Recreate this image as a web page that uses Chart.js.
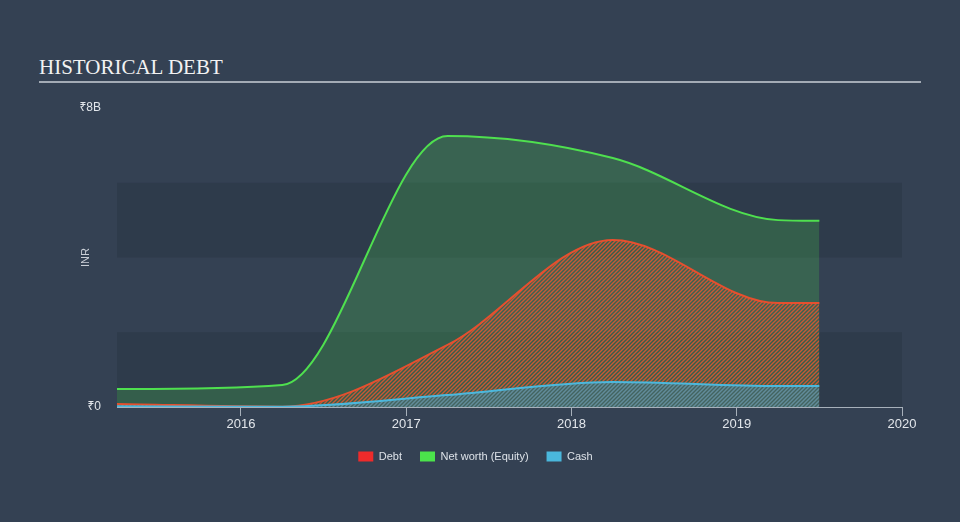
<!DOCTYPE html>
<html>
<head>
<meta charset="utf-8">
<script src="https://cdn.jsdelivr.net/npm/chart.js@4.4.0/dist/chart.umd.min.js"></script>
<style>
  html, body { margin: 0; padding: 0; background: #344153; }
  #wrap { position: relative; width: 960px; height: 522px; }
  #titulo {
    position: absolute; left: 39px; top: 55px;
    font-family: "Liberation Serif", "DejaVu Serif", serif;
    font-size: 21px; color: #f2f2f2;
  }
  #linha { position: absolute; left: 39px; top: 81px; width: 882px; height: 2px; background: #a3abb5; }
  canvas { position: absolute; left: 0; top: 0; }
</style>
</head>
<body>
<div id="wrap">
  <div id="titulo">HISTORICAL DEBT</div>
  <div id="linha"></div>
  <canvas id="grafico" width="960" height="522"></canvas>
</div>
<script>
// datas em anos fracionados (fim de março de cada ano + último trimestre)
const datas = [2015.25, 2016.25, 2017.25, 2018.25, 2019.25, 2019.5];
// valores em bilhões de rúpias
const divida = [0.08, 0.01, 1.66, 4.47, 2.78, 2.78];
const patrimonio = [0.48, 0.59, 7.25, 6.66, 5.0, 4.98];
const caixa = [0.02, 0.01, 0.32, 0.67, 0.56, 0.56];
const anosTicks = [2016, 2017, 2018, 2019, 2020];
const yTicks = [0, 8];

function pontos(valores) {
  return datas.map((d, i) => ({ x: d, y: valores[i] }));
}

function hachura(corLinha, corFundo) {
  const c = document.createElement("canvas");
  c.width = 4; c.height = 4;
  const g = c.getContext("2d");
  if (corFundo) { g.fillStyle = corFundo; g.fillRect(0, 0, 4, 4); }
  g.strokeStyle = corLinha;
  g.lineWidth = 1.4;
  g.beginPath();
  g.moveTo(0, 4); g.lineTo(4, 0);
  g.moveTo(-1, 1); g.lineTo(1, -1);
  g.moveTo(3, 5); g.lineTo(5, 3);
  g.stroke();
  return g.createPattern(c, "repeat");
}

const faixas = {
  id: "faixas",
  afterLayout(chart) {
    // legenda um pouco à esquerda, como no original
    chart.legend.left -= 15;
    chart.legend.right -= 15;
  },
  beforeDatasetsDraw(chart) {
    const { ctx, chartArea, scales } = chart;
    ctx.save();
    ctx.fillStyle = "#2e3b4b";
    [[4, 6], [0, 2]].forEach(([a, b]) => {
      const y1 = scales.y.getPixelForValue(b);
      const y2 = scales.y.getPixelForValue(a);
      ctx.fillRect(chartArea.left, y1, chartArea.right - chartArea.left, y2 - y1);
    });
    ctx.restore();
  }
};

const ctx = document.getElementById("grafico").getContext("2d");

new Chart(ctx, {
  type: "line",
  data: {
    datasets: [
      {
        label: "Debt",
        data: pontos(divida),
        borderColor: "#e5502f",
        backgroundColor: hachura("rgba(236,88,48,0.8)"),
        fill: "origin",
        order: 2
      },
      {
        label: "Net worth (Equity)",
        data: pontos(patrimonio),
        borderColor: "#4fe04f",
        backgroundColor: "rgba(75,227,75,0.21)",
        fill: "origin",
        order: 3
      },
      {
        label: "Cash",
        data: pontos(caixa),
        borderColor: "#4cb8dd",
        backgroundColor: hachura("rgba(76,184,221,0.5)", "rgba(70,105,110,0.65)"),
        fill: "origin",
        order: 1
      }
    ]
  },
  options: {
    responsive: false,
    animation: false,
    layout: { padding: { left: 79, right: 58, top: 108, bottom: 50 } },
    elements: {
      line: { borderWidth: 2, cubicInterpolationMode: "monotone" },
      point: { radius: 0 }
    },
    plugins: {
      legend: {
        position: "bottom",
        labels: {
          color: "#dde2e8",
          font: { family: "Liberation Sans, Noto Sans, sans-serif", size: 11 },
          boxWidth: 15,
          boxHeight: 10,
          padding: 18,
          generateLabels: (chart) => {
            const cores = ["#ee2b2b", "#4be34b", "#4ab7dc"];
            return chart.data.datasets.map((ds, i) => ({
              text: ds.label,
              fillStyle: cores[i],
              strokeStyle: cores[i],
              lineWidth: 0,
              fontColor: "#dde2e8",
              datasetIndex: i
            }));
          }
        }
      },
      tooltip: { enabled: false }
    },
    scales: {
      x: {
        type: "linear",
        min: 2015.25,
        max: 2020,
        afterBuildTicks: (s) => { s.ticks = anosTicks.map(v => ({ value: v })); },
        afterFit: (s) => { s.height = 26; },
        ticks: {
          color: "#e2e6eb",
          font: { family: "Liberation Sans, Noto Sans, sans-serif", size: 13 },
          padding: 1,
          maxRotation: 0,
          callback: (v) => String(v)
        },
        grid: { drawOnChartArea: false, drawTicks: true, tickLength: 9, color: "#a7b0ba", lineWidth: 1 },
        border: { display: true, color: "#a7b0ba", width: 1 }
      },
      y: {
        min: 0,
        max: 8,
        afterBuildTicks: (s) => { s.ticks = yTicks.map(v => ({ value: v })); },
        afterFit: (s) => { s.width = 38; },
        ticks: {
          color: "#e2e6eb",
          font: { family: "Liberation Sans, Noto Sans, DejaVu Sans, sans-serif", size: 12 },
          padding: 16,
          callback: (v) => v === 0 ? "₹0" : "₹" + v + "B"
        },
        grid: { display: false, drawTicks: false },
        border: { display: false },
        title: {
          display: true,
          text: "INR",
          color: "#c9ced6",
          font: { family: "Liberation Sans, Noto Sans, sans-serif", size: 11 },
          padding: { top: 0, bottom: 0 }
        }
      }
    }
  },
  plugins: [faixas]
});
</script>
</body>
</html>
